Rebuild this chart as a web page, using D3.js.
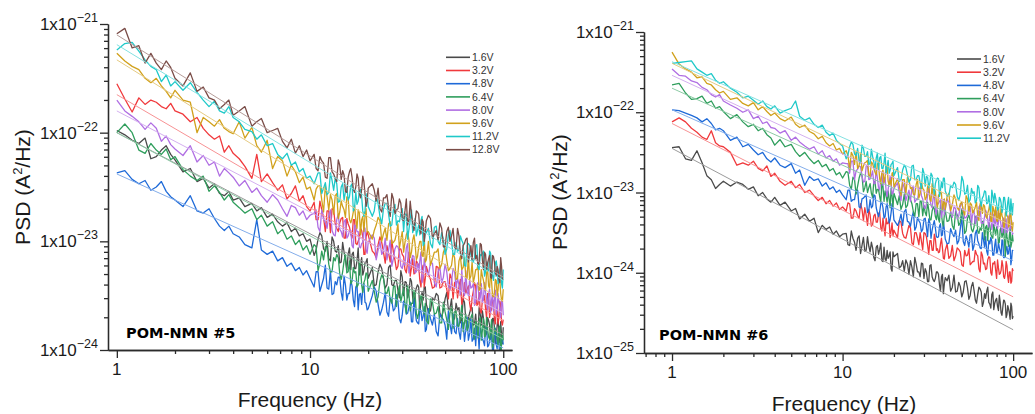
<!DOCTYPE html>
<html>
<head>
<meta charset="utf-8">
<script src="https://cdn.jsdelivr.net/npm/d3@7"></script>
<style>
  body { margin: 0; background: #fff; }
  svg { display: block; font-family: "Liberation Sans", Arial, sans-serif; }
</style>
</head>
<body>
<div id="chart"></div>
<script>
// frequencies (Hz), main grid
const freqs = [1.0,1.1,1.2,1.3,1.4,1.5,1.6,1.7,1.8,1.9,2.0,
  2.2,2.4,2.6,2.8,3.0,3.2,3.4,3.6,3.8,4.0,
  4.3,4.6,5.0,5.3,5.6,6.0,6.4,6.8,7.2,7.6,8.0,8.4,8.8,9.2,9.6,10,
  10.5,11,11.5,12,12.5,13,13.5,14,14.5,15,15.5,16,16.5,17,17.5,18,18.5,19,19.5,20,
  21,22,23,24,25,26,27,28,29,30,31,32,33,34,35,36,37,38,39,40,
  42,44,46,48,50,52,54,56,58,60,62,64,66,68,70,72,74,76,78,80,82,84,86,88,90,92,94,96,98,100];
// in-between frequencies (Hz) read for the dense part of the spectra
const freqsB = [10.75,11.25,11.75,12.25,12.75,13.25,13.75,14.25,14.75,15.25,15.75,16.25,16.75,17.25,17.75,18.25,18.75,19.25,19.75,
  21.5,22.5,23.5,24.5,25.5,26.5,27.5,28.5,29.5,30.5,31.5,32.5,33.5,34.5,35.5,36.5,37.5,38.5,39.5,
  41,43,45,47,49,51,53,55,57,59,61,63,65,67,69,71,73,75,77,79,81,83,85,87,89,91,93,95,97,99];

const voltages5 = ["1.6V","3.2V","4.8V","6.4V","8.0V","9.6V","11.2V","12.8V"];
const voltages6 = ["1.6V","3.2V","4.8V","6.4V","8.0V","9.6V","11.2V"];
const colors = ["#4a4a4a","#f0393c","#1e6ad8","#2f9e5c","#b06ee3","#d1a11c","#1fc9c9","#7a4c47"];

// POM-NMN #5, log10 of PSD (A^2/Hz), main grid
const p5_16 = [-21.98,-22.02,-22.07,-22.10,-22.05,-22.24,-22.22,-22.16,-22.12,-22.20,-22.25,-22.36,-22.33,-22.45,-22.42,-22.51,-22.47,-22.56,-22.58,-22.54,-22.62,-22.60,-22.68,-22.65,-22.72,-22.69,-22.78,-22.75,-22.82,-22.86,-22.83,-22.91,-22.88,-22.95,-22.93,-23.00,-22.98,
  -23.13,-22.98,-22.95,-23.09,-23.16,-22.96,-23.09,-23.04,-23.19,-23.10,-23.26,-23.06,-23.12,-23.25,-23.18,-23.31,-23.15,-23.27,-23.19,-23.34,
  -23.24,-23.40,-23.21,-23.34,-23.40,-23.22,-23.41,-23.36,-23.52,-23.33,-23.37,-23.52,-23.34,-23.52,-23.48,-23.40,-23.64,-23.46,-23.42,-23.58,
  -23.64,-23.54,-23.50,-23.70,-23.53,-23.63,-23.53,-23.71,-23.63,-23.75,-23.53,-23.72,-23.70,-23.61,-23.77,-23.67,-23.87,-23.67,-23.64,-23.78,-23.85,-23.73,-23.90,-23.71,-23.79,-23.88,-23.71,-23.93,-23.86,-23.79];
const p5_32 = [-21.55,-21.69,-21.81,-21.68,-21.74,-21.70,-21.72,-21.76,-21.78,-21.73,-21.80,-21.83,-21.90,-21.86,-21.96,-22.02,-22.06,-22.03,-22.18,-22.12,-22.19,-22.24,-22.31,-22.42,-22.20,-22.45,-22.38,-22.46,-22.53,-22.48,-22.61,-22.56,-22.49,-22.63,-22.58,-22.68,-22.72,
  -22.64,-22.80,-22.71,-22.91,-22.72,-22.70,-22.84,-22.91,-22.79,-22.97,-22.79,-22.87,-22.97,-22.80,-23.03,-22.97,-22.90,-23.12,-22.96,-22.94,
  -23.09,-23.15,-22.96,-23.10,-23.04,-23.19,-23.10,-23.26,-23.07,-23.12,-23.26,-23.19,-23.32,-23.16,-23.29,-23.20,-23.36,-23.26,-23.42,-23.23,
  -23.35,-23.42,-23.24,-23.42,-23.37,-23.53,-23.34,-23.38,-23.52,-23.35,-23.52,-23.48,-23.41,-23.64,-23.46,-23.41,-23.58,-23.64,-23.54,-23.50,-23.71,-23.54,-23.64,-23.54,-23.72,-23.64,-23.76,-23.55,-23.74,-23.72];
const p5_48 = [-22.37,-22.35,-22.43,-22.47,-22.44,-22.53,-22.50,-22.45,-22.54,-22.59,-22.62,-22.68,-22.58,-22.72,-22.74,-22.70,-22.79,-22.86,-22.90,-22.86,-22.93,-22.96,-23.03,-23.06,-22.80,-23.08,-23.12,-23.09,-23.18,-23.15,-23.23,-23.20,-23.27,-23.24,-23.31,-23.27,-23.34,
  -23.42,-23.28,-23.40,-23.22,-23.44,-23.49,-23.37,-23.33,-23.47,-23.32,-23.54,-23.48,-23.41,-23.60,-23.40,-23.49,-23.58,-23.39,-23.57,-23.62,
  -23.50,-23.46,-23.68,-23.56,-23.65,-23.52,-23.64,-23.49,-23.71,-23.68,-23.57,-23.66,-23.56,-23.74,-23.64,-23.75,-23.62,-23.73,-23.60,-23.81,
  -23.71,-23.67,-23.87,-23.70,-23.77,-23.64,-23.85,-23.83,-23.71,-23.90,-23.75,-23.81,-23.91,-23.70,-23.90,-23.96,-23.82,-23.78,-23.90,-23.96,-23.78,-23.96,-23.88,-24.01,-23.85,-23.95,-23.85,-24.08,-23.91,-23.95];
const p5_64 = [-22.00,-21.92,-22.00,-22.16,-22.19,-22.10,-22.16,-22.20,-22.15,-22.25,-22.22,-22.34,-22.40,-22.44,-22.40,-22.54,-22.49,-22.55,-22.62,-22.57,-22.64,-22.69,-22.74,-22.70,-22.80,-22.76,-22.86,-22.82,-22.93,-22.89,-22.98,-22.95,-23.03,-22.99,-23.08,-23.04,-23.12,
  -23.03,-23.27,-23.09,-23.05,-23.21,-23.28,-23.18,-23.15,-23.35,-23.18,-23.29,-23.18,-23.37,-23.29,-23.42,-23.20,-23.40,-23.38,-23.29,-23.46,
  -23.36,-23.56,-23.37,-23.34,-23.48,-23.54,-23.42,-23.60,-23.41,-23.49,-23.58,-23.41,-23.64,-23.57,-23.50,-23.71,-23.55,-23.53,-23.67,-23.73,
  -23.53,-23.67,-23.60,-23.75,-23.65,-23.81,-23.60,-23.65,-23.78,-23.71,-23.83,-23.67,-23.79,-23.70,-23.85,-23.74,-23.89,-23.70,-23.82,-23.88,-23.70,-23.88,-23.83,-23.98,-23.79,-23.82,-23.96,-23.78,-23.95,-23.91];
const p5_80 = [-21.70,-21.80,-21.85,-21.90,-21.97,-21.91,-21.96,-22.08,-22.03,-22.11,-22.15,-22.21,-22.12,-22.27,-22.21,-22.30,-22.27,-22.40,-22.33,-22.37,-22.41,-22.49,-22.44,-22.55,-22.51,-22.58,-22.64,-22.57,-22.62,-22.70,-22.77,-22.67,-22.69,-22.76,-22.72,-22.80,-22.76,
  -22.74,-22.87,-22.71,-22.83,-22.76,-22.90,-22.95,-22.75,-22.91,-22.82,-22.97,-22.90,-23.04,-22.85,-22.91,-23.05,-23.02,-22.87,-23.08,-23.01,
  -22.94,-23.17,-23.00,-23.09,-23.17,-22.99,-23.16,-23.04,-23.10,-23.25,-23.22,-23.02,-23.22,-23.13,-23.29,-23.20,-23.18,-23.38,-23.16,-23.28,
  -23.20,-23.38,-23.28,-23.38,-23.21,-23.41,-23.37,-23.28,-23.34,-23.50,-23.45,-23.27,-23.50,-23.43,-23.39,-23.56,-23.38,-23.52,-23.56,-23.38,-23.53,-23.48,-23.66,-23.48,-23.54,-23.67,-23.48,-23.63,-23.53,-23.68];
const p5_96 = [-21.27,-21.34,-21.39,-21.42,-21.50,-21.54,-21.50,-21.57,-21.62,-21.68,-21.61,-21.70,-21.72,-22.00,-21.86,-21.90,-21.94,-21.88,-21.96,-21.99,-22.01,-21.90,-22.05,-21.95,-22.12,-22.18,-22.07,-22.33,-22.22,-22.26,-22.40,-22.30,-22.36,-22.46,-22.41,-22.52,-22.50,
  -22.62,-22.49,-22.62,-22.49,-22.71,-22.62,-22.58,-22.79,-22.63,-22.71,-22.59,-22.80,-22.79,-22.67,-22.88,-22.74,-22.80,-22.91,-22.70,-22.91,
  -22.98,-22.85,-22.81,-22.93,-22.99,-22.82,-23.01,-22.93,-23.06,-22.91,-23.01,-22.91,-23.15,-22.99,-23.03,-23.14,-23.00,-23.13,-22.95,-23.17,
  -23.22,-23.10,-23.07,-23.21,-23.06,-23.27,-23.22,-23.15,-23.34,-23.14,-23.24,-23.33,-23.14,-23.32,-23.38,-23.26,-23.22,-23.44,-23.32,-23.42,-23.29,-23.41,-23.27,-23.50,-23.47,-23.36,-23.45,-23.35,-23.54,-23.44];
const p5_112 = [-21.24,-21.18,-21.17,-21.25,-21.33,-21.39,-21.42,-21.53,-21.47,-21.57,-21.53,-21.61,-21.54,-21.63,-21.70,-21.76,-21.71,-21.80,-21.82,-21.76,-21.86,-21.90,-21.97,-21.99,-22.06,-22.02,-22.12,-22.10,-22.20,-22.24,-22.19,-22.30,-22.27,-22.36,-22.33,-22.42,-22.40,
  -22.47,-22.37,-22.56,-22.46,-22.55,-22.44,-22.42,-22.64,-22.50,-22.62,-22.50,-22.59,-22.47,-22.69,-22.66,-22.54,-22.59,-22.77,-22.59,-22.68,
  -22.77,-22.58,-22.77,-22.70,-22.65,-22.86,-22.71,-22.85,-22.82,-22.70,-22.75,-22.98,-22.80,-22.92,-22.79,-22.90,-22.94,-22.77,-23.02,-22.92,
  -23.02,-22.87,-23.00,-22.92,-23.12,-22.94,-23.00,-23.12,-23.09,-22.95,-23.02,-23.23,-23.02,-23.12,-23.19,-23.04,-23.24,-23.12,-23.11,-23.32,-23.19,-23.27,-23.11,-23.31,-23.28,-23.18,-23.39,-23.26,-23.39,-23.26];
const p5_128 = [-21.09,-21.04,-21.22,-21.20,-21.36,-21.27,-21.36,-21.42,-21.34,-21.40,-21.50,-21.57,-21.45,-21.62,-21.58,-21.68,-21.70,-21.78,-21.74,-21.70,-21.84,-21.80,-21.76,-21.94,-21.90,-21.87,-22.00,-21.98,-21.96,-22.08,-22.14,-22.06,-22.19,-22.12,-22.22,-22.16,-22.26,
  -22.20,-22.35,-22.26,-22.41,-22.23,-22.36,-22.42,-22.25,-22.43,-22.39,-22.55,-22.36,-22.41,-22.55,-22.38,-22.56,-22.52,-22.45,-22.68,-22.51,
  -22.47,-22.63,-22.70,-22.60,-22.57,-22.77,-22.61,-22.71,-22.61,-22.80,-22.72,-22.85,-22.63,-22.83,-22.81,-22.73,-22.89,-22.80,-23.00,-22.81,
  -22.79,-22.93,-22.99,-22.88,-23.05,-22.87,-22.95,-23.05,-22.88,-23.11,-23.04,-22.98,-23.19,-23.04,-23.01,-23.16,-23.22,-23.02,-23.17,-23.10,-23.26,-23.16,-23.33,-23.13,-23.19,-23.32,-23.26,-23.38,-23.23,-23.35];

// POM-NMN #5, in-between grid
const p5_16b = [-23.08,-22.92,-23.07,-23.00,-23.18,-23.00,-23.10,-23.20,-23.01,-23.17,-23.12,-23.26,-23.10,-23.25,-23.06,-23.23,-23.31,-23.20,-23.16,
  -23.41,-23.28,-23.25,-23.43,-23.24,-23.40,-23.36,-23.45,-23.27,-23.50,-23.38,-23.47,-23.37,-23.60,-23.43,-23.42,-23.57,-23.54,-23.42,
  -23.65,-23.52,-23.48,-23.66,-23.63,-23.47,-23.62,-23.73,-23.57,-23.61,-23.72,-23.56,-23.79,-23.66,-23.61,-23.76,-23.81,-23.61,-23.77,-23.71,-23.86,-23.70,-23.77,-23.85,-23.71,-23.94,-23.77,-23.85,-23.74,-23.94];
const p5_32b = [-22.80,-22.63,-22.78,-22.72,-22.92,-22.71,-22.88,-22.83,-22.78,-22.97,-22.84,-22.93,-22.80,-23.02,-23.00,-22.88,-22.96,-23.12,-22.91,
  -23.11,-23.03,-23.01,-23.20,-23.11,-22.99,-23.17,-23.23,-23.07,-23.14,-23.29,-23.10,-23.24,-23.30,-23.18,-23.22,-23.42,-23.22,-23.34,
  -23.30,-23.43,-23.23,-23.43,-23.37,-23.44,-23.30,-23.53,-23.37,-23.42,-23.58,-23.38,-23.44,-23.57,-23.52,-23.38,-23.59,-23.47,-23.66,-23.54,-23.62,-23.48,-23.70,-23.63,-23.55,-23.76,-23.61,-23.70,-23.58,-23.77];
const p5_48b = [-23.28,-23.46,-23.34,-23.43,-23.27,-23.48,-23.40,-23.33,-23.54,-23.40,-23.48,-23.36,-23.54,-23.42,-23.63,-23.48,-23.43,-23.56,-23.63,
  -23.42,-23.58,-23.63,-23.47,-23.69,-23.55,-23.62,-23.55,-23.75,-23.55,-23.67,-23.61,-23.74,-23.53,-23.73,-23.76,-23.64,-23.69,-23.83,
  -23.62,-23.77,-23.83,-23.67,-23.72,-23.90,-23.76,-23.67,-23.85,-23.83,-23.74,-23.92,-23.70,-23.85,-23.92,-23.80,-23.77,-23.99,-23.84,-23.92,-23.79,-23.97,-23.92,-23.86,-24.01,-23.80,-23.99,-23.93,-24.07,-23.89];
const p5_64b = [-23.05,-23.20,-23.17,-23.06,-23.28,-23.15,-23.12,-23.30,-23.28,-23.12,-23.28,-23.39,-23.24,-23.28,-23.40,-23.24,-23.47,-23.35,-23.30,
  -23.46,-23.51,-23.31,-23.47,-23.42,-23.57,-23.41,-23.48,-23.56,-23.43,-23.66,-23.49,-23.57,-23.45,-23.66,-23.66,-23.50,-23.64,-23.57,
  -23.76,-23.56,-23.66,-23.75,-23.56,-23.72,-23.66,-23.80,-23.64,-23.78,-23.59,-23.75,-23.82,-23.71,-23.67,-23.90,-23.76,-23.73,-23.91,-23.71,-23.87,-23.81,-23.90,-23.72,-23.94,-23.83,-23.90,-23.80,-24.03,-23.85];
const p5_80b = [-22.71,-22.91,-22.79,-22.88,-22.71,-22.94,-22.80,-22.89,-22.96,-22.80,-22.95,-22.90,-23.06,-22.86,-22.91,-23.06,-23.01,-22.88,-23.11,
  -22.97,-23.08,-23.12,-22.97,-23.08,-23.23,-23.07,-23.05,-23.23,-23.19,-23.06,-23.29,-23.17,-23.14,-23.28,-23.28,-23.10,-23.33,-23.23,
  -23.31,-23.20,-23.42,-23.24,-23.33,-23.28,-23.45,-23.25,-23.43,-23.40,-23.26,-23.50,-23.46,-23.35,-23.42,-23.59,-23.40,-23.55,-23.39,-23.53,-23.47,-23.63,-23.44,-23.54,-23.64,-23.45,-23.63,-23.56,-23.70,-23.55];
const p5_96b = [-22.52,-22.49,-22.73,-22.59,-22.57,-22.75,-22.56,-22.73,-22.68,-22.78,-22.60,-22.83,-22.73,-22.80,-22.71,-22.94,-22.77,-22.77,-22.91,
  -22.90,-22.78,-23.00,-22.88,-22.84,-23.02,-22.99,-22.84,-22.99,-23.10,-22.94,-22.99,-23.10,-22.94,-23.17,-23.05,-23.00,-23.14,-23.19,
  -23.00,-23.16,-23.10,-23.25,-23.10,-23.17,-23.25,-23.11,-23.35,-23.18,-23.26,-23.14,-23.34,-23.35,-23.19,-23.33,-23.26,-23.45,-23.26,-23.36,-23.45,-23.26,-23.43,-23.37,-23.51,-23.35,-23.50,-23.31,-23.48,-23.55];
const p5_112b = [-22.42,-22.37,-22.51,-22.57,-22.37,-22.53,-22.47,-22.63,-22.47,-22.54,-22.62,-22.49,-22.72,-22.55,-22.63,-22.52,-22.72,-22.72,-22.56,
  -22.72,-22.65,-22.84,-22.65,-22.75,-22.85,-22.66,-22.81,-22.75,-22.91,-22.75,-22.89,-22.71,-22.88,-22.95,-22.85,-22.81,-23.04,-22.90,
  -22.88,-23.06,-22.86,-23.03,-22.98,-23.07,-22.90,-23.12,-23.01,-23.08,-22.99,-23.22,-23.04,-23.04,-23.18,-23.15,-23.03,-23.26,-23.13,-23.09,-23.28,-23.25,-23.09,-23.25,-23.36,-23.20,-23.25,-23.36,-23.20,-23.43];
const p5_128b = [-22.33,-22.22,-22.28,-22.42,-22.23,-22.38,-22.45,-22.30,-22.35,-22.54,-22.41,-22.33,-22.52,-22.50,-22.42,-22.60,-22.40,-22.56,-22.63,
  -22.53,-22.51,-22.73,-22.60,-22.69,-22.56,-22.75,-22.70,-22.65,-22.81,-22.61,-22.80,-22.75,-22.90,-22.72,-22.75,-22.93,-22.82,-22.91,
  -22.76,-22.97,-22.90,-22.83,-23.05,-22.91,-23.00,-22.88,-23.07,-22.95,-23.16,-23.02,-22.97,-23.11,-23.17,-22.97,-23.13,-23.19,-23.03,-23.26,-23.12,-23.20,-23.13,-23.34,-23.14,-23.28,-23.23,-23.35,-23.15,-23.35];

// POM-NMN #6, log10 of PSD (A^2/Hz), main grid
const p6_16 = [-22.44,-22.43,-22.58,-22.60,-22.48,-22.63,-22.79,-22.84,-22.95,-22.90,-22.86,-22.92,-22.87,-22.90,-22.96,-22.93,-23.04,-23.00,-23.08,-23.12,-23.06,-23.16,-23.12,-23.23,-23.20,-23.33,-23.27,-23.36,-23.32,-23.50,-23.41,-23.46,-23.43,-23.52,-23.48,-23.55,-23.52,
  -23.51,-23.66,-23.57,-23.72,-23.54,-23.66,-23.73,-23.55,-23.74,-23.69,-23.85,-23.66,-23.71,-23.85,-23.68,-23.85,-23.82,-23.74,-23.98,-23.80,
  -23.76,-23.92,-23.98,-23.89,-23.85,-24.05,-23.89,-23.99,-23.88,-24.07,-23.99,-24.11,-23.90,-24.09,-24.07,-23.99,-24.15,-24.05,-24.26,-24.06,
  -24.03,-24.18,-24.24,-24.12,-24.30,-24.11,-24.19,-24.28,-24.12,-24.34,-24.27,-24.20,-24.42,-24.26,-24.23,-24.37,-24.44,-24.24,-24.38,-24.32,-24.47,-24.37,-24.53,-24.34,-24.39,-24.52,-24.45,-24.58,-24.42,-24.54];
const p6_32 = [-22.12,-22.07,-22.12,-22.20,-22.25,-22.31,-22.34,-22.23,-22.38,-22.42,-22.43,-22.50,-22.66,-22.63,-22.66,-22.61,-22.70,-22.73,-22.67,-22.80,-22.76,-22.86,-22.91,-22.86,-22.94,-22.90,-23.00,-22.97,-23.04,-23.10,-23.06,-23.14,-23.10,-23.17,-23.13,-23.21,-23.18,
  -23.23,-23.14,-23.32,-23.23,-23.32,-23.21,-23.19,-23.41,-23.28,-23.40,-23.27,-23.37,-23.25,-23.48,-23.44,-23.32,-23.38,-23.56,-23.38,-23.47,
  -23.56,-23.37,-23.56,-23.49,-23.44,-23.65,-23.50,-23.65,-23.61,-23.50,-23.55,-23.77,-23.60,-23.72,-23.58,-23.70,-23.74,-23.57,-23.82,-23.72,
  -23.82,-23.66,-23.79,-23.71,-23.90,-23.72,-23.78,-23.90,-23.86,-23.72,-23.79,-23.99,-23.78,-23.88,-23.95,-23.80,-24.00,-23.88,-23.86,-24.07,-23.94,-24.01,-23.85,-24.05,-24.01,-23.91,-24.12,-23.99,-24.11,-23.98];
const p6_48 = [-21.97,-21.98,-22.01,-22.04,-22.07,-22.12,-22.08,-22.14,-22.22,-22.20,-22.23,-22.35,-22.31,-22.43,-22.40,-22.47,-22.53,-22.50,-22.58,-22.62,-22.57,-22.66,-22.69,-22.64,-22.76,-22.72,-22.91,-22.80,-22.85,-22.83,-22.92,-22.88,-22.96,-22.93,-23.00,-22.97,-23.03,
  -23.09,-22.97,-23.09,-22.97,-23.18,-23.08,-23.05,-23.25,-23.09,-23.17,-23.04,-23.25,-23.24,-23.12,-23.32,-23.18,-23.24,-23.34,-23.14,-23.34,
  -23.41,-23.27,-23.24,-23.36,-23.42,-23.24,-23.43,-23.35,-23.49,-23.33,-23.43,-23.33,-23.57,-23.40,-23.44,-23.56,-23.42,-23.54,-23.36,-23.58,
  -23.63,-23.51,-23.47,-23.60,-23.30,-23.66,-23.60,-23.53,-23.72,-23.51,-23.60,-23.69,-23.50,-23.68,-23.73,-23.60,-23.56,-23.78,-23.66,-23.75,-23.62,-23.73,-23.59,-23.81,-23.78,-23.67,-23.76,-23.65,-23.83,-23.73];
const p6_64 = [-21.66,-21.64,-21.76,-21.84,-21.83,-21.80,-21.89,-21.86,-21.95,-21.93,-21.99,-22.08,-22.03,-22.12,-22.18,-22.15,-22.23,-22.20,-22.28,-22.32,-22.41,-22.34,-22.43,-22.40,-22.49,-22.55,-22.50,-22.58,-22.64,-22.60,-22.68,-22.65,-22.73,-22.70,-22.78,-22.75,-22.82,
  -22.74,-22.91,-22.81,-23.02,-22.82,-22.79,-22.94,-23.00,-22.89,-23.06,-22.87,-22.96,-23.05,-22.89,-23.11,-23.04,-22.98,-23.19,-23.04,-23.01,
  -23.15,-23.21,-23.02,-23.16,-23.09,-23.24,-23.14,-23.30,-23.11,-23.16,-23.29,-23.22,-23.34,-23.18,-23.30,-23.22,-23.37,-23.27,-23.42,-23.23,
  -23.35,-23.41,-23.23,-23.41,-23.20,-23.51,-23.32,-23.35,-23.49,-23.31,-23.48,-23.44,-23.36,-23.59,-23.41,-23.36,-23.52,-23.57,-23.47,-23.43,-23.63,-23.46,-23.56,-23.45,-23.80,-23.55,-23.67,-23.44,-23.63,-23.61];
const p6_80 = [-21.46,-21.54,-21.55,-21.61,-21.63,-21.69,-21.72,-21.78,-21.81,-21.78,-21.86,-21.91,-21.95,-22.00,-21.97,-22.08,-22.05,-22.14,-22.12,-22.19,-22.20,-22.26,-22.23,-22.35,-22.31,-22.37,-22.42,-22.46,-22.43,-22.52,-22.48,-22.57,-22.54,-22.61,-22.58,-22.66,-22.63,
  -22.64,-22.76,-22.61,-22.73,-22.67,-22.80,-22.86,-22.66,-22.83,-22.73,-22.89,-22.82,-22.97,-22.77,-22.84,-22.98,-22.96,-22.80,-23.02,-22.95,
  -22.88,-23.10,-22.94,-23.03,-23.11,-22.92,-23.09,-22.98,-23.04,-23.18,-23.15,-22.95,-23.16,-23.06,-23.22,-23.13,-23.11,-23.31,-23.09,-23.21,
  -23.13,-23.31,-23.20,-23.29,-23.12,-23.32,-23.28,-23.17,-23.23,-23.39,-23.34,-23.16,-23.38,-23.30,-23.26,-23.43,-23.25,-23.38,-23.42,-23.23,-23.38,-23.33,-23.50,-23.32,-23.38,-23.50,-23.31,-23.45,-23.35,-23.50];
const p6_96 = [-21.25,-21.40,-21.46,-21.50,-21.57,-21.56,-21.64,-21.66,-21.72,-21.76,-21.74,-21.84,-21.82,-21.89,-21.92,-21.88,-21.97,-21.93,-21.99,-22.04,-22.01,-22.08,-22.11,-22.06,-22.15,-22.19,-22.16,-22.24,-22.27,-22.33,-22.30,-22.38,-22.42,-22.39,-22.47,-22.45,-22.52,
  -22.48,-22.71,-22.54,-22.49,-22.66,-22.73,-22.63,-22.60,-22.80,-22.64,-22.75,-22.64,-22.83,-22.75,-22.88,-22.67,-22.86,-22.85,-22.76,-22.93,
  -22.83,-23.04,-22.84,-22.81,-22.95,-23.02,-22.90,-23.07,-22.88,-22.97,-23.06,-22.89,-23.11,-23.05,-22.98,-23.19,-23.03,-23.01,-23.15,-23.21,
  -23.01,-23.15,-23.08,-23.22,-23.12,-23.28,-23.08,-23.13,-23.26,-23.18,-23.30,-23.14,-23.26,-23.17,-23.32,-23.21,-23.36,-23.17,-23.29,-23.35,-23.17,-23.34,-23.29,-23.44,-23.25,-23.29,-23.43,-23.24,-23.41,-23.37];
const p6_112 = [-21.39,-21.38,-21.37,-21.36,-21.46,-21.50,-21.54,-21.52,-21.60,-21.64,-21.62,-21.70,-21.75,-21.82,-21.80,-21.85,-21.90,-21.86,-21.93,-21.96,-21.92,-22.01,-21.98,-21.95,-21.86,-22.05,-22.10,-22.07,-22.15,-22.19,-22.16,-22.25,-22.29,-22.26,-22.35,-22.39,-22.42,
  -22.58,-22.43,-22.40,-22.54,-22.61,-22.41,-22.55,-22.49,-22.64,-22.55,-22.71,-22.51,-22.57,-22.70,-22.63,-22.76,-22.60,-22.72,-22.64,-22.79,
  -22.69,-22.84,-22.66,-22.78,-22.84,-22.66,-22.84,-22.79,-22.95,-22.76,-22.80,-22.94,-22.76,-22.93,-22.89,-22.82,-23.05,-22.87,-22.82,-22.98,
  -23.04,-22.94,-22.90,-23.10,-22.80,-23.02,-22.91,-23.09,-23.01,-23.13,-22.91,-23.10,-23.07,-22.98,-23.14,-23.04,-23.24,-23.04,-23.01,-23.14,-23.20,-23.08,-23.25,-23.06,-23.14,-23.23,-23.06,-23.27,-23.20,-23.13];

// POM-NMN #6, in-between grid
const p6_16b = [-23.65,-23.48,-23.62,-23.57,-23.76,-23.56,-23.72,-23.67,-23.62,-23.81,-23.68,-23.77,-23.63,-23.86,-23.83,-23.72,-23.79,-23.95,-23.74,
  -23.94,-23.85,-23.84,-24.02,-23.93,-23.81,-23.99,-24.05,-23.89,-23.95,-24.11,-23.91,-24.05,-24.11,-23.99,-24.02,-24.23,-24.02,-24.14,
  -24.10,-24.23,-24.03,-24.23,-24.17,-24.24,-24.10,-24.33,-24.17,-24.22,-24.38,-24.18,-24.24,-24.37,-24.32,-24.18,-24.39,-24.27,-24.46,-24.34,-24.42,-24.28,-24.50,-24.43,-24.35,-24.56,-24.41,-24.50,-24.38,-24.57];
const p6_32b = [-23.13,-23.32,-23.20,-23.29,-23.14,-23.35,-23.28,-23.21,-23.42,-23.29,-23.37,-23.26,-23.44,-23.32,-23.54,-23.39,-23.35,-23.48,-23.54,
  -23.35,-23.51,-23.57,-23.41,-23.63,-23.50,-23.57,-23.50,-23.71,-23.51,-23.65,-23.60,-23.72,-23.52,-23.72,-23.75,-23.64,-23.69,-23.83,
  -23.64,-23.79,-23.85,-23.69,-23.74,-23.92,-23.79,-23.70,-23.88,-23.86,-23.77,-23.95,-23.74,-23.89,-23.96,-23.84,-23.81,-24.03,-23.89,-23.97,-23.84,-24.02,-23.97,-23.91,-24.07,-23.86,-24.05,-23.99,-24.13,-23.95];
const p6_48b = [-22.97,-23.11,-23.09,-22.97,-23.19,-23.07,-23.03,-23.22,-23.19,-23.03,-23.19,-23.30,-23.14,-23.19,-23.30,-23.14,-23.38,-23.25,-23.20,
  -23.36,-23.41,-23.21,-23.37,-23.31,-23.47,-23.31,-23.38,-23.46,-23.32,-23.55,-23.38,-23.47,-23.35,-23.55,-23.55,-23.39,-23.53,-23.46,
  -23.64,-23.45,-23.55,-23.64,-23.45,-23.61,-23.54,-23.68,-23.52,-23.66,-23.47,-23.64,-23.70,-23.59,-23.55,-23.78,-23.64,-23.61,-23.78,-23.58,-23.74,-23.69,-23.78,-23.60,-23.81,-23.70,-23.77,-23.67,-23.90,-23.72];
const p6_64b = [-22.75,-22.96,-22.84,-22.92,-22.76,-22.99,-22.86,-22.94,-23.01,-22.86,-23.01,-22.96,-23.12,-22.92,-22.98,-23.12,-23.08,-22.95,-23.18,
  -23.04,-23.15,-23.19,-23.03,-23.14,-23.30,-23.14,-23.11,-23.29,-23.25,-23.12,-23.34,-23.23,-23.20,-23.34,-23.33,-23.15,-23.38,-23.28,
  -23.36,-23.24,-23.46,-23.28,-23.37,-23.32,-23.48,-23.28,-23.46,-23.43,-23.29,-23.51,-23.47,-23.36,-23.43,-23.60,-23.41,-23.55,-23.39,-23.53,-23.47,-23.62,-23.43,-23.52,-23.62,-23.43,-23.61,-23.54,-23.68,-23.52];
const p6_80b = [-22.64,-22.61,-22.84,-22.71,-22.68,-22.87,-22.67,-22.84,-22.79,-22.89,-22.71,-22.94,-22.83,-22.91,-22.81,-23.05,-22.87,-22.87,-23.01,
  -23.00,-22.88,-23.10,-22.97,-22.94,-23.12,-23.09,-22.93,-23.08,-23.20,-23.04,-23.08,-23.19,-23.03,-23.27,-23.14,-23.09,-23.23,-23.28,
  -23.08,-23.24,-23.18,-23.33,-23.17,-23.23,-23.31,-23.17,-23.40,-23.23,-23.30,-23.18,-23.38,-23.38,-23.22,-23.35,-23.28,-23.46,-23.27,-23.37,-23.45,-23.26,-23.42,-23.36,-23.50,-23.33,-23.47,-23.28,-23.45,-23.52];
const p6_96b = [-22.54,-22.50,-22.65,-22.70,-22.51,-22.67,-22.62,-22.78,-22.62,-22.70,-22.78,-22.65,-22.89,-22.72,-22.81,-22.69,-22.90,-22.91,-22.75,
  -22.91,-22.84,-23.02,-22.84,-22.94,-23.03,-22.84,-23.01,-22.95,-23.09,-22.93,-23.08,-22.89,-23.06,-23.13,-23.03,-22.99,-23.22,-23.08,
  -23.05,-23.23,-23.03,-23.19,-23.14,-23.23,-23.04,-23.26,-23.15,-23.22,-23.12,-23.35,-23.16,-23.15,-23.29,-23.26,-23.14,-23.36,-23.22,-23.18,-23.36,-23.33,-23.17,-23.32,-23.42,-23.26,-23.30,-23.41,-23.25,-23.48];
const p6_112b = [-22.53,-22.37,-22.52,-22.45,-22.63,-22.45,-22.55,-22.65,-22.46,-22.62,-22.57,-22.71,-22.55,-22.70,-22.51,-22.68,-22.76,-22.65,-22.61,
  -22.86,-22.72,-22.69,-22.87,-22.67,-22.84,-22.79,-22.88,-22.70,-22.92,-22.81,-22.88,-22.79,-23.02,-22.84,-22.83,-22.97,-22.94,-22.82,
  -23.04,-22.91,-22.87,-23.05,-23.02,-22.86,-23.01,-23.12,-22.95,-22.99,-23.10,-22.94,-23.17,-23.04,-22.99,-23.13,-23.17,-22.97,-23.13,-23.07,-23.22,-23.06,-23.13,-23.20,-23.06,-23.29,-23.12,-23.20,-23.08,-23.28];

// power-law fits: log10 PSD at 1 Hz and at 100 Hz
const fit5At1   = [-22.00,-21.65,-22.38,-22.00,-21.80,-21.33,-21.19,-21.10];
const fit5At100 = [-23.86,-23.73,-23.98,-23.90,-23.66,-23.55,-23.36,-23.33];
const fit6At1   = [-22.45,-22.14,-21.97,-21.70,-21.54,-21.39,-21.37];
const fit6At100 = [-24.71,-24.30,-23.85,-23.62,-23.50,-23.42,-23.26];

const xMajor = [1, 10, 100];

const svg = d3.select("#chart").append("svg")
    .attr("width", 1035)
    .attr("height", 414);

function drawPanel(cfg) {
    const x = d3.scaleLog().domain(cfg.xDomain).range([cfg.left, cfg.right]);
    const y = d3.scaleLog().domain([Math.pow(10, cfg.expMin), Math.pow(10, cfg.expMax)]).range([cfg.bottom, cfg.top]);
    const g = svg.append("g");

    g.append("clipPath").attr("id", cfg.id + "-clip")
        .append("rect")
        .attr("x", cfg.left).attr("y", cfg.top - 2)
        .attr("width", cfg.right - cfg.left).attr("height", cfg.bottom - cfg.top + 2);

    const line = d3.line()
        .x(d => x(d[0]))
        .y(d => y(Math.pow(10, d[1])));

    // both frequency grids merged into one spectrum per voltage
    const spectra = cfg.series.map((vals, s) =>
        freqs.map((f, i) => [f, vals[i]])
            .concat(freqsB.map((f, i) => [f, cfg.seriesB[s][i]]))
            .filter(p => p[1] !== undefined)
            .sort((a, b) => a[0] - b[0]));

    const plot = g.append("g").attr("clip-path", "url(#" + cfg.id + "-clip)");

    plot.selectAll("path.psd")
        .data(spectra)
        .join("path")
        .attr("class", "psd")
        .attr("fill", "none")
        .attr("stroke", (d, i) => colors[i])
        .attr("stroke-width", 1.3)
        .attr("stroke-linejoin", "round")
        .attr("d", line);

    // fitted lines
    plot.selectAll("path.fit")
        .data(cfg.fitStart)
        .join("path")
        .attr("class", "fit")
        .attr("fill", "none")
        .attr("stroke", (d, i) => d3.interpolateRgb(colors[i], "#fff")(0.45))
        .attr("stroke-width", 1)
        .attr("d", (d, i) => line([[1, d], [100, cfg.fitEnd[i]]]));

    // axes
    const yMajor = d3.range(cfg.expMin, cfg.expMax + 1).map(e => Math.pow(10, e));
    const yMinor = [];
    d3.range(cfg.expMin, cfg.expMax).forEach(e => {
        for (let m = 2; m < 10; m++) yMinor.push(m * Math.pow(10, e));
    });

    const styleAxis = sel => {
        sel.selectAll("path, line").attr("stroke", "#2b2b2b").attr("stroke-width", 1.3);
        sel.selectAll("text").remove();
    };

    g.append("g").attr("transform", `translate(${cfg.left},0)`)
        .call(d3.axisLeft(y).tickValues(yMinor).tickSize(4).tickSizeOuter(0).tickFormat(""))
        .call(styleAxis);
    g.append("g").attr("transform", `translate(${cfg.left},0)`)
        .call(d3.axisLeft(y).tickValues(yMajor).tickSize(8).tickSizeOuter(0).tickFormat(""))
        .call(styleAxis);
    g.append("g").attr("transform", `translate(0,${cfg.bottom})`)
        .call(d3.axisBottom(x).tickValues(cfg.xMinor).tickSize(4).tickSizeOuter(0).tickFormat(""))
        .call(styleAxis);
    g.append("g").attr("transform", `translate(0,${cfg.bottom})`)
        .call(d3.axisBottom(x).tickValues(xMajor).tickSize(8).tickSizeOuter(0).tickFormat(""))
        .call(styleAxis);

    // y tick labels 1x10^n
    g.selectAll("text.ylab")
        .data(yMajor)
        .join("text")
        .attr("class", "ylab")
        .attr("x", cfg.left - 10)
        .attr("y", d => y(d) + 6)
        .attr("text-anchor", "end")
        .attr("font-size", 17)
        .attr("fill", "#1a1a1a")
        .each(function (d) {
            const t = d3.select(this);
            t.append("tspan").text("1x10");
            t.append("tspan").attr("dy", -8).attr("font-size", 12.5)
                .text("\u2212" + Math.round(-Math.log10(d)));
        });

    g.selectAll("text.xlab")
        .data(xMajor)
        .join("text")
        .attr("class", "xlab")
        .attr("x", d => x(d))
        .attr("y", cfg.bottom + 25)
        .attr("text-anchor", "middle")
        .attr("font-size", 17)
        .attr("fill", "#1a1a1a")
        .text(d => d);

    // axis titles
    g.append("text")
        .attr("x", cfg.xTitle[0]).attr("y", cfg.xTitle[1])
        .attr("text-anchor", "middle")
        .attr("font-size", 21)
        .attr("fill", "#1a1a1a")
        .text("Frequency (Hz)");

    const yt = g.append("text")
        .attr("transform", `translate(${cfg.yTitle[0]},${cfg.yTitle[1]}) rotate(-90)`)
        .attr("text-anchor", "middle")
        .attr("font-size", 21)
        .attr("fill", "#1a1a1a");
    yt.append("tspan").text("PSD (A");
    yt.append("tspan").attr("dy", -8).attr("font-size", 13).text("2");
    yt.append("tspan").attr("dy", 8).text("/Hz)");

    // sample label
    g.append("text")
        .attr("x", cfg.tag[0]).attr("y", cfg.tag[1])
        .attr("font-family", "'DejaVu Sans', sans-serif")
        .attr("font-weight", "bold")
        .attr("font-size", 14.5)
        .attr("fill", "#000")
        .text(cfg.label);

    // legend
    const leg = g.append("g");
    cfg.names.forEach((name, i) => {
        const ly = cfg.legend[1] + i * 13.2;
        leg.append("line")
            .attr("x1", cfg.legend[0]).attr("x2", cfg.legend[0] + 24)
            .attr("y1", ly).attr("y2", ly)
            .attr("stroke", colors[i]).attr("stroke-width", 1.6);
        leg.append("text")
            .attr("x", cfg.legend[0] + 26).attr("y", ly)
            .attr("dy", "0.36em")
            .attr("font-size", 10.5)
            .attr("fill", "#333")
            .text(name);
    });
}

drawPanel({
    id: "p5",
    left: 108, right: 512, top: 24, bottom: 350,
    xDomain: [0.9, 111],
    expMin: -24, expMax: -21,
    xMinor: [2,3,4,5,6,7,8,9,20,30,40,50,60,70,80,90],
    series: [p5_16, p5_32, p5_48, p5_64, p5_80, p5_96, p5_112, p5_128],
    seriesB: [p5_16b, p5_32b, p5_48b, p5_64b, p5_80b, p5_96b, p5_112b, p5_128b],
    fitStart: fit5At1, fitEnd: fit5At100,
    names: voltages5,
    label: "POM-NMN #5",
    xTitle: [310, 407],
    yTitle: [30, 187],
    tag: [126, 338],
    legend: [446, 57.3]
});

drawPanel({
    id: "p6",
    left: 644, right: 1032, top: 32, bottom: 353,
    xDomain: [0.685, 129],
    expMin: -25, expMax: -21,
    xMinor: [0.7,0.8,0.9,2,3,4,5,6,7,8,9,20,30,40,50,60,70,80,90],
    series: [p6_16, p6_32, p6_48, p6_64, p6_80, p6_96, p6_112],
    seriesB: [p6_16b, p6_32b, p6_48b, p6_64b, p6_80b, p6_96b, p6_112b],
    fitStart: fit6At1, fitEnd: fit6At100,
    names: voltages6,
    label: "POM-NMN #6",
    xTitle: [844, 411],
    yTitle: [567, 192],
    tag: [659, 340],
    legend: [957, 59]
});
</script>
</body>
</html>
